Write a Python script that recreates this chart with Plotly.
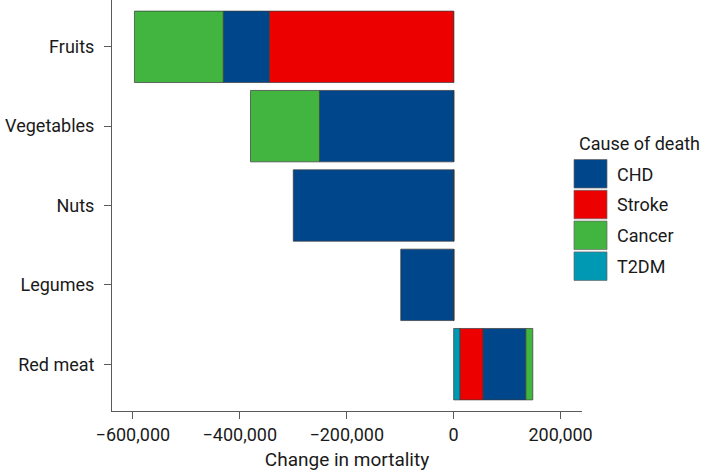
import plotly.graph_objects as go

categories = ["Fruits", "Vegetables", "Nuts", "Legumes", "Red meat"]
causes = ["T2DM", "Stroke", "CHD", "Cancer"]
chd = [-86000, -251000, -300000, -99000, 80000]
stroke = [-345000, 0, 0, 0, 43000]
cancer = [-166000, -129000, 0, 0, 13000]
t2dm = [0, 0, 0, 0, 12000]
legend_order = ["CHD", "Stroke", "Cancer", "T2DM"]
colors = {"CHD": "#00468B", "Stroke": "#ED0000", "Cancer": "#42B540", "T2DM": "#0099B4"}
values = {"CHD": chd, "Stroke": stroke, "Cancer": cancer, "T2DM": t2dm}
xticks = [-600000, -400000, -200000, 0, 200000]

W, H = 706, 471
L, R, T, B = 112, 124, 0, 60
PW, PH = W - L - R, H - T - B

def px(x):
    return (x - L) / PW

def py(y):
    return (H - B - y) / PH

fig = go.Figure()
for c in causes:
    fig.add_trace(go.Bar(
        y=categories, x=values[c], orientation="h", name=c,
        marker=dict(color=colors[c], line=dict(color="#3a3a3a", width=0.7)),
        width=0.9, showlegend=False,
    ))

font = "Roboto, Liberation Sans, sans-serif"
txt = "#1a1a1a"
shapes = []
annotations = [dict(x=px(577), y=py(143), xref="paper", yref="paper", text="Cause of death",
                    showarrow=False, xanchor="left", yanchor="middle",
                    font=dict(family=font, size=18, color=txt))]
for i, c in enumerate(legend_order):
    top = 159.5 + i * 30.8
    shapes.append(dict(type="rect", xref="paper", yref="paper",
                       x0=px(574), x1=px(607), y0=py(top), y1=py(top + 28.5),
                       fillcolor=colors[c], line=dict(color="#666666", width=0.7)))
    annotations.append(dict(x=px(615), y=py(top + 14.5), xref="paper", yref="paper", text=c,
                            showarrow=False, xanchor="left", yanchor="middle",
                            font=dict(family=font, size=18, color=txt)))

fig.update_layout(
    barmode="relative",
    width=W, height=H,
    margin=dict(l=L, r=R, t=T, b=B),
    plot_bgcolor="white", paper_bgcolor="white",
    font=dict(family=font, size=18, color=txt),
    shapes=shapes, annotations=annotations,
    xaxis=dict(range=[-639000, 240000], tickvals=xticks, tickformat=",d",
               showgrid=False, zeroline=False, showline=True, linecolor="#5a5a5a", linewidth=1,
               ticks="outside", ticklen=7, tickcolor="#5a5a5a",
               tickfont=dict(size=18, color=txt),
               title=dict(text="Change in mortality", font=dict(size=19, color=txt), standoff=11)),
    yaxis=dict(categoryorder="array", categoryarray=categories, autorange=False,
               range=[4.59, -0.59], showgrid=False, zeroline=False, showline=True,
               linecolor="#5a5a5a", linewidth=1, ticks="outside", ticklen=7, tickcolor="#5a5a5a",
               ticklabelstandoff=6, tickfont=dict(size=18, color=txt)),
)

fig.write_html("out.html", config={"displayModeBar": False},
               post_script="document.body.style.margin='0';")
